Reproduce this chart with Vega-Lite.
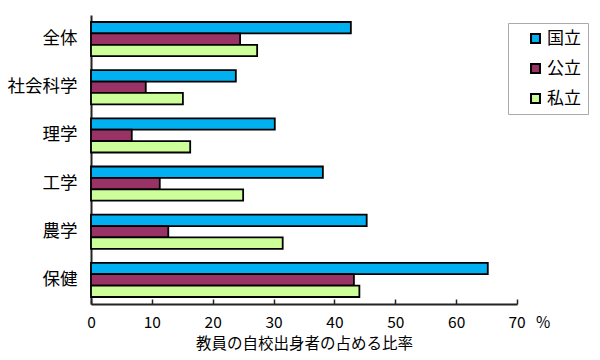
{
  "$schema": "https://vega.github.io/schema/vega-lite/v6.json",
  "width": 426,
  "height": 289,
  "autosize": "none",
  "padding": {"left": 91, "top": 15, "right": 83, "bottom": 56},
  "config": {
    "view": {"stroke": null},
    "font": "Noto Sans CJK JP",
    "axis": {"labelColor": "black", "titleColor": "black", "domainColor": "#222", "domainWidth": 2, "tickColor": "#222", "tickWidth": 1.5}
  },
  "data": {
    "values": [
      {"分野": "全体", "設置者": "国立", "比率": 42.7},
      {"分野": "全体", "設置者": "公立", "比率": 24.5},
      {"分野": "全体", "設置者": "私立", "比率": 27.3},
      {"分野": "社会科学", "設置者": "国立", "比率": 23.8},
      {"分野": "社会科学", "設置者": "公立", "比率": 9.0},
      {"分野": "社会科学", "設置者": "私立", "比率": 15.1},
      {"分野": "理学", "設置者": "国立", "比率": 30.2},
      {"分野": "理学", "設置者": "公立", "比率": 6.7},
      {"分野": "理学", "設置者": "私立", "比率": 16.3},
      {"分野": "工学", "設置者": "国立", "比率": 38.1},
      {"分野": "工学", "設置者": "公立", "比率": 11.3},
      {"分野": "工学", "設置者": "私立", "比率": 25.0},
      {"分野": "農学", "設置者": "国立", "比率": 45.3},
      {"分野": "農学", "設置者": "公立", "比率": 12.7},
      {"分野": "農学", "設置者": "私立", "比率": 31.5},
      {"分野": "保健", "設置者": "国立", "比率": 65.2},
      {"分野": "保健", "設置者": "公立", "比率": 43.2},
      {"分野": "保健", "設置者": "私立", "比率": 44.1}
    ]
  },
  "mark": {"type": "bar", "stroke": "black", "strokeWidth": 1.8},
  "encoding": {
    "y": {
      "field": "分野",
      "type": "nominal",
      "sort": ["全体", "社会科学", "理学", "工学", "農学", "保健"],
      "scale": {"paddingInner": 0.29, "paddingOuter": 0.145},
      "axis": {"title": null, "ticks": false, "labelFontSize": 17.5, "labelPadding": 14}
    },
    "yOffset": {
      "field": "設置者",
      "sort": ["国立", "公立", "私立"],
      "scale": {"paddingInner": 0, "paddingOuter": 0}
    },
    "x": {
      "field": "比率",
      "type": "quantitative",
      "scale": {"domain": [0, 70], "nice": false},
      "axis": {
        "values": [0, 10, 20, 30, 40, 50, 60, 70],
        "grid": false,
        "tickSize": -5,
        "labelPadding": 16,
        "labelFontSize": 15.5,
        "labelFlush": false,
        "labelExpr": "datum.value === 70 ? '70\u00a0\u00a0\u00a0%' : datum.label",
        "labelAlign": {"condition": {"test": "datum.value === 70", "value": "left"}, "value": "center"},
        "labelOffset": {"condition": {"test": "datum.value === 70", "value": -9}, "value": 0},
        "title": "教員の自校出身者の占める比率",
        "titleFontSize": 15.5,
        "titleFontWeight": "normal",
        "titlePadding": 6
      }
    },
    "color": {
      "field": "設置者",
      "type": "nominal",
      "scale": {"domain": ["国立", "公立", "私立"], "range": ["#00B0F0", "#993366", "#CCFF99"]},
      "legend": {
        "title": null,
        "orient": "none",
        "legendX": 417,
        "legendY": 8,
        "strokeColor": "#aaa",
        "fillColor": "white",
        "padding": 7,
        "symbolOffset": 12,
        "labelFontSize": 17,
        "labelColor": "black",
        "labelOffset": 3,
        "labelExpr": "datum.label + '\u2002\u00a0'",
        "symbolType": "square",
        "symbolSize": 80,
        "symbolStrokeColor": "black",
        "symbolStrokeWidth": 2,
        "rowPadding": 12
      }
    }
  }
}
